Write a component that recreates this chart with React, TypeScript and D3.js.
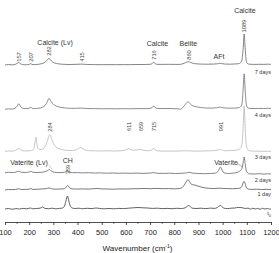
import React, { useEffect, useRef } from "react";
import * as d3 from "d3";

type Pt = [number, number];

// Raman spectra, [wavenumber (cm-1), intensity above own baseline]
const t0Spectrum: Pt[] = [
  [100, 0], [115, 0.5], [130, -0.3], [145, 0.4], [160, 0], [175, 0.6], [190, 0.2], [205, 1], [215, 0.2],
  [230, 0.5], [245, 0.8], [255, 2], [265, 0.6], [280, 0.3], [295, 0.8], [310, 0.2], [325, 0.6], [338, 1],
  [346, 3], [352, 8], [358, 13], [364, 8], [370, 3], [378, 1], [390, 0.5], [405, 0.8], [420, 0.3], [440, 0.7],
  [460, 0.4], [475, 1], [490, 0.6], [510, 0.2], [530, 0.5], [550, 0.2], [570, 0.6], [590, 0.4], [610, 0.8],
  [630, 1.2], [650, 1.5], [670, 1.2], [690, 1], [710, 0.6], [730, 0.8], [750, 0.4], [770, 0.6], [790, 0.3],
  [810, 0.7], [830, 0.5], [845, 1.2], [853, 2.5], [860, 3.6], [867, 2], [875, 0.8], [890, 0.5], [910, 0.8],
  [930, 0.4], [950, 0.9], [965, 0.6], [978, 1.5], [986, 3], [991, 3.6], [998, 2], [1006, 0.8], [1020, 0.4],
  [1035, 0.8], [1050, 1], [1065, 1.6], [1080, 1.3], [1095, 0.5], [1105, 0.9], [1115, -0.2], [1125, 0.8],
  [1135, 0], [1145, 0.6], [1155, -0.3], [1165, 0.7], [1175, 0], [1185, 0.5], [1195, -0.2], [1200, 0.3],
];

const day1Spectrum: Pt[] = [
  [100, -0.3], [115, 0.2], [130, 0], [145, 0.3], [157, 0.9], [168, 0.2], [185, 0.3], [200, 0.5], [207, 1.2],
  [215, 0.3], [235, 0.4], [255, 0.8], [270, 1], [282, 1.8], [292, 1], [305, 0.5], [320, 0.6], [340, 0.8],
  [350, 1.8], [359, 4.2], [367, 2], [378, 0.8], [395, 0.6], [420, 0.8], [445, 0.6], [465, 1], [480, 1.2],
  [500, 0.8], [525, 0.7], [550, 0.5], [575, 0.8], [600, 0.7], [625, 0.9], [650, 1], [675, 1.2], [700, 1],
  [725, 1.3], [750, 1], [775, 1.1], [800, 0.9], [815, 1], [828, 1.6], [838, 3.5], [846, 6.5], [852, 9],
  [857, 10], [862, 8.5], [868, 6], [876, 5], [886, 4.6], [898, 3.6], [912, 2.6], [928, 1.8], [945, 1.3],
  [965, 1.2], [985, 1.5], [1000, 1.3], [1020, 1.1], [1040, 1], [1060, 1.2], [1072, 1.6], [1080, 3.5],
  [1086, 7.5], [1089, 8.3], [1093, 6], [1099, 2], [1106, 0.6], [1120, 0.3], [1140, 0.5], [1160, 0.1],
  [1180, 0.4], [1200, 0.2],
];

const day2Spectrum: Pt[] = [
  [100, 0.8], [115, 1.2], [130, 0.9], [145, 1.4], [157, 2.3], [168, 1.2], [185, 1], [200, 1.5], [207, 2.3],
  [215, 1.2], [230, 1], [250, 1.2], [265, 1.8], [275, 2.8], [284, 4], [292, 2.2], [305, 1.2], [320, 0.9],
  [340, 1.1], [352, 1.8], [359, 2.8], [366, 1.6], [380, 0.8], [400, 0.9], [420, 0.6], [445, 0.8], [470, 0.5],
  [495, 0.6], [520, 0.3], [545, 0.5], [570, 0.2], [595, 0.4], [620, 0.2], [645, 0.4], [670, 0.1], [695, 0.3],
  [715, 0.9], [730, 0.2], [755, 0.1], [780, 0.3], [805, 0], [830, 0.2], [850, 0.6], [862, 1.2], [875, 0.4],
  [900, 0], [925, -0.2], [950, 0], [970, 0.4], [980, 1.8], [986, 4.5], [991, 6.5], [996, 4.5], [1002, 1.5],
  [1010, 0.3], [1025, 0], [1040, 0.3], [1055, 0.8], [1068, 2], [1076, 3.5], [1082, 7], [1086, 13],
  [1089, 16.5], [1092, 12], [1096, 5], [1101, 1.2], [1110, -0.3], [1130, -0.5], [1150, -0.2], [1170, -0.6],
  [1185, -0.3], [1200, -0.5],
];

const day3Spectrum: Pt[] = [
  [100, 0], [115, 0.3], [130, 0.2], [142, 0.8], [150, 2], [157, 2.8], [164, 1.5], [175, 0.5], [190, 0.4],
  [205, 0.6], [215, 1.2], [221, 4], [225, 11], [228, 14], [231, 9], [236, 3], [242, 1.8], [250, 1.8],
  [260, 3], [268, 6], [276, 11], [282, 15.5], [286, 16.5], [292, 13], [300, 8], [310, 4.5], [322, 2.8],
  [335, 1.8], [350, 1], [365, 0.8], [380, 0.8], [395, 1.5], [405, 3], [413, 4], [421, 2.8], [432, 1.2],
  [450, 0.6], [475, 0.5], [500, 0.3], [525, 0.5], [550, 0.3], [575, 0.5], [595, 1], [605, 2], [611, 2.8],
  [617, 2], [628, 1.2], [645, 1.3], [655, 1.8], [663, 1.6], [675, 1], [695, 0.6], [706, 1.3], [712, 2.4],
  [716, 2.8], [721, 1.6], [730, 0.5], [750, 0.2], [775, 0.3], [800, 0.2], [825, 0.4], [850, 0.5], [875, 0.3],
  [900, 0.2], [925, 0.4], [950, 0.5], [972, 0.8], [984, 1.5], [991, 2], [998, 1.2], [1010, 0.6], [1030, 0.7],
  [1050, 1], [1065, 1.6], [1075, 3.5], [1081, 9], [1085, 25], [1089, 45], [1093, 25], [1097, 8], [1102, 2.5],
  [1110, 0.6], [1125, 0.2], [1145, 0.1], [1165, 0], [1185, 0], [1200, 0],
];

const day4Spectrum: Pt[] = [
  [100, -0.5], [115, 0], [130, -0.3], [142, 0.6], [150, 2.5], [157, 5], [163, 2.8], [170, 0.8], [182, 0.2],
  [195, 0.3], [203, 1], [207, 1.8], [211, 0.6], [222, 0.2], [240, 0.6], [255, 1.5], [266, 3.5], [275, 7],
  [282, 10.5], [288, 8.5], [296, 5.5], [306, 3.5], [318, 2.2], [332, 1.4], [350, 0.8], [370, 0.5], [395, 0.5],
  [415, 0.7], [440, 0.3], [470, 0.2], [500, 0], [530, 0.1], [560, 0], [590, 0.1], [620, 0], [650, 0.2],
  [680, 0.1], [700, 0.4], [708, 1.2], [713, 2.6], [716, 2.8], [720, 1.5], [728, 0.4], [745, 0.2], [770, 0.3],
  [795, 0.2], [815, 0], [826, -0.4], [836, 1.5], [846, 4.5], [853, 6.5], [858, 7], [864, 5.5], [872, 3.6],
  [882, 2.6], [896, 1.8], [912, 1.2], [930, 0.8], [955, 0.7], [975, 1], [988, 1.7], [996, 1.3], [1010, 0.8],
  [1030, 0.6], [1050, 0.7], [1065, 1], [1074, 2], [1080, 5], [1085, 20], [1089, 35], [1093, 20], [1097, 6],
  [1102, 1.5], [1110, 0.4], [1130, 0.2], [1150, 0.4], [1170, 0.3], [1185, 0.5], [1200, 0.4],
];

const day7Spectrum: Pt[] = [
  [100, -0.2], [115, 0.2], [130, 0], [143, 0.5], [150, 1.5], [157, 2.5], [163, 1.3], [172, 0.2], [185, 0],
  [200, 0.4], [207, 1.2], [212, 0.3], [225, 0.2], [245, 0.8], [260, 1.8], [270, 3.5], [277, 5.5], [282, 6.5],
  [288, 5], [296, 3], [306, 1.8], [320, 1], [340, 0.5], [365, 0.3], [390, 0.4], [415, 0.7], [440, 0.3],
  [470, 0.2], [500, 0.1], [530, 0.2], [560, 0.1], [590, 0.2], [620, 0.2], [650, 0.3], [680, 0.3], [700, 0.5],
  [709, 1.3], [713, 2.4], [716, 2.6], [720, 1.4], [728, 0.5], [750, 0.4], [775, 0.5], [800, 0.4], [820, 0.4],
  [835, 1], [845, 2], [853, 2.8], [860, 3], [867, 2.4], [877, 1.5], [890, 1], [910, 0.7], [935, 0.6],
  [960, 0.7], [978, 1], [988, 1.5], [995, 1.2], [1008, 0.8], [1030, 0.6], [1050, 0.8], [1065, 1.1],
  [1074, 2], [1080, 5], [1085, 17], [1089, 30.8], [1093, 17], [1097, 5], [1102, 1.4], [1110, 0.6],
  [1130, 0.4], [1150, 0.5], [1170, 0.4], [1185, 0.6], [1200, 0.5],
];

const seriesNames = ["t0", "1 day", "2 days", "3 days", "4 days", "7 days"];
const seriesSpectra = [t0Spectrum, day1Spectrum, day2Spectrum, day3Spectrum, day4Spectrum, day7Spectrum];
const seriesOffsets = [13, 32.3, 48.5, 70.7, 113.2, 157.2];

const xTickValues = [100, 200, 300, 400, 500, 600, 700, 800, 900, 1000, 1100, 1200];
const xMinorTicks = [150, 250, 350, 450, 550, 650, 750, 850, 950, 1050, 1150];

const peaks7Days = [157, 207, 282, 415, 716, 860, 1089];
const peaks3Days = [284, 611, 659, 715, 991];
const peaks2Days = [359];

const FONT = "'Liberation Sans', Arial, Helvetica, sans-serif";

const App = () => {
  const svgRef = useRef<SVGSVGElement>(null);

  useEffect(() => {
    const width = 279;
    const height = 253;

    const svg = d3.select(svgRef.current);
    svg.selectAll("*").remove();
    svg.attr("width", width).attr("height", height).style("font-family", FONT);

    svg.append("rect").attr("width", width).attr("height", height).attr("fill", "#fff");

    const x = d3.scaleLinear().domain([100, 1200]).range([5, 271]);
    const y = d3.scaleLinear().domain([0, 200]).range([222, 22]);

    const colors: Record<string, string> = {
      t0: "#3a3a3a",
      "1 day": "#555",
      "2 days": "#666",
      "3 days": "#b8b8b8",
      "4 days": "#6e6e6e",
      "7 days": "#666",
    };

    const series = seriesNames.map((name, i) => ({
      name,
      offset: seriesOffsets[i],
      data: seriesSpectra[i],
    }));

    // 3 days goes first so the darker traces sit on top of it
    const drawOrder = ["3 days", "t0", "1 day", "2 days", "4 days", "7 days"];

    const line = (offset: number) =>
      d3
        .line<Pt>()
        .x((d) => x(d[0]))
        .y((d) => y(d[1] + offset))
        .curve(d3.curveMonotoneX);

    drawOrder.forEach((name) => {
      const s = series.find((d) => d.name === name)!;
      svg
        .append("path")
        .datum(s.data)
        .attr("fill", "none")
        .attr("stroke", colors[name])
        .attr("stroke-width", 0.8)
        .attr("stroke-linejoin", "round")
        .attr("d", line(s.offset));
    });

    // series names at the right edge
    const nameY: Record<string, number> = {
      "7 days": 73.5,
      "4 days": 117,
      "3 days": 159,
      "2 days": 181.5,
      "1 day": 196,
    };
    Object.keys(nameY).forEach((name) => {
      svg
        .append("text")
        .attr("x", 271)
        .attr("y", nameY[name])
        .attr("text-anchor", "end")
        .attr("font-size", 5.5)
        .attr("fill", "#333")
        .text(name);
    });
    const t0Label = svg
      .append("text")
      .attr("x", 271)
      .attr("y", 215)
      .attr("text-anchor", "end")
      .attr("font-size", 5.5)
      .attr("fill", "#333");
    t0Label.append("tspan").text("t");
    t0Label.append("tspan").attr("font-size", 4).attr("dy", 2.2).text("0");

    // rotated peak positions
    const rotated = (wn: number, cy: number) =>
      svg
        .append("text")
        .attr("transform", `translate(${x(wn) + 0.3},${cy}) rotate(-90)`)
        .attr("text-anchor", "middle")
        .attr("dy", "0.35em")
        .attr("font-size", 5.8)
        .attr("fill", "#444")
        .text(wn);

    const centre7: Record<number, number> = { 157: 57, 207: 57, 282: 51, 415: 57, 716: 55, 860: 55, 1089: 26 };
    peaks7Days.forEach((wn) => rotated(wn, centre7[wn]));
    peaks3Days.forEach((wn) => rotated(wn, wn === 284 ? 127 : 126.5));
    peaks2Days.forEach((wn) => rotated(wn, 169.5));

    // phase names
    const phases: [string, number, number][] = [
      ["Calcite (Lv)", 307, 44.5],
      ["Calcite", 730, 46],
      ["Belite", 858, 46],
      ["AFt", 985, 58.5],
      ["Calcite", 1092, 13],
      ["Vaterite (Lv)", 199, 164.5],
      ["CH", 360, 162.5],
      ["Vaterite", 1014, 164.5],
    ];
    phases.forEach(([label, wn, ty]) => {
      svg
        .append("text")
        .attr("x", x(wn))
        .attr("y", ty)
        .attr("text-anchor", "middle")
        .attr("font-size", 7)
        .attr("fill", "#333")
        .text(label);
    });

    // pointers from the vaterite labels to their peaks
    svg
      .append("line")
      .attr("x1", 49)
      .attr("y1", 165)
      .attr("x2", 52)
      .attr("y2", 169.5)
      .attr("stroke", "#aaa")
      .attr("stroke-width", 0.6);
    svg
      .append("line")
      .attr("x1", 237)
      .attr("y1", 163)
      .attr("x2", 243)
      .attr("y2", 167.5)
      .attr("stroke", "#777")
      .attr("stroke-width", 0.6);

    // x axis
    const axisY = 222;
    const axis = svg
      .append("g")
      .attr("transform", `translate(0,${axisY})`)
      .call(
        d3
          .axisBottom(x)
          .tickValues(xTickValues)
          .tickSize(3)
          .tickSizeOuter(0)
          .tickPadding(5)
          .tickFormat(d3.format("d"))
      );
    axis.select(".domain").attr("stroke", "#222").attr("stroke-width", 0.8);
    axis.selectAll(".tick line").attr("stroke", "#222").attr("stroke-width", 0.8);
    axis.selectAll(".tick text").attr("font-size", 7.5).attr("font-family", FONT).attr("fill", "#222");

    svg
      .append("g")
      .attr("transform", `translate(0,${axisY})`)
      .selectAll("line")
      .data(xMinorTicks)
      .enter()
      .append("line")
      .attr("x1", (d) => x(d))
      .attr("x2", (d) => x(d))
      .attr("y1", 0)
      .attr("y2", 1.8)
      .attr("stroke", "#222")
      .attr("stroke-width", 0.7);

    const title = svg
      .append("text")
      .attr("x", 137.5)
      .attr("y", 251)
      .attr("text-anchor", "middle")
      .attr("font-size", 8)
      .attr("fill", "#222");
    title.append("tspan").text("Wavenumber (cm");
    title.append("tspan").attr("font-size", 5).attr("dy", -3).text("-1");
    title.append("tspan").attr("dy", 3).text(")");
  }, []);

  return (
    <div style={{ position: "absolute", left: 0, top: 0 }}>
      <svg ref={svgRef}></svg>
    </div>
  );
};

export default App;
